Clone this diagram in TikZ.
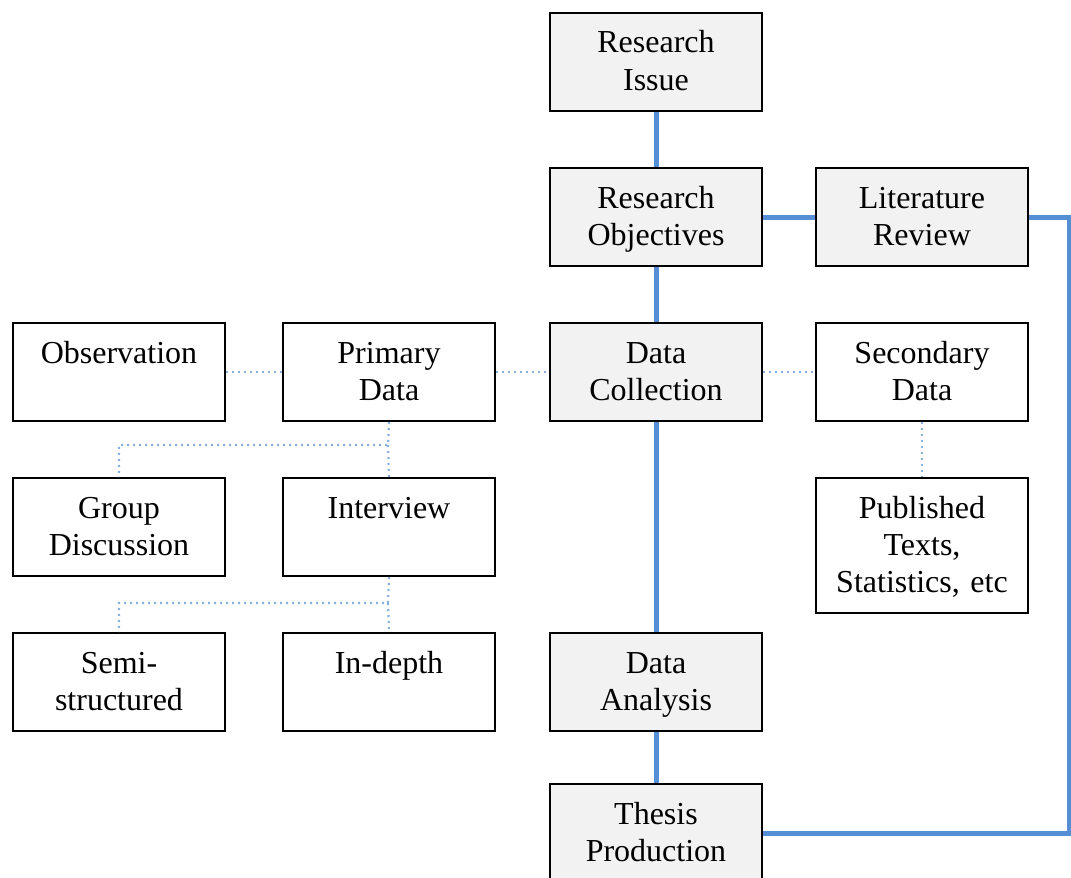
\documentclass[tikz,border=0pt]{standalone}
\usepackage{fontspec}
\setmainfont{Liberation Serif}
\definecolor{boxgray}{HTML}{F2F2F2}
\definecolor{linkblue}{HTML}{558ED5}
\definecolor{dotblue}{HTML}{8AB0E0}
\begin{document}
\begin{tikzpicture}[x=0.5pt, y=-0.5pt,
  blk/.style={draw, line width=1pt, anchor=north west, inner sep=0pt,
    minimum width=106pt, minimum height=49pt, text width=104pt, align=center,
    text height=20pt, text depth=29pt, font=\fontsize{16}{18.5}\selectfont},
  grayblk/.style={blk, fill=boxgray},
  mainline/.style={line width=2.5pt, draw=linkblue},
  subline/.style={line width=1.1pt, draw=dotblue, dash pattern=on 1pt off 2pt}]
\useasboundingbox (0,0) rectangle (1071,878);

% Main column
\node[grayblk] (issue) at (549,12) {Research\\Issue};
\node[grayblk] (objectives) at (549,167) {Research\\Objectives};
\node[grayblk] (litreview) at (815,167) {Literature\\Review};
\node[grayblk] (collection) at (549,322) {Data\\Collection};
\node[grayblk] (analysis) at (549,632) {Data\\Analysis};
\node[grayblk] (thesis) at (549,783) {Thesis\\Production};

% Primary and secondary data
\node[blk] (observation) at (12,322) {Observation};
\node[blk] (primary) at (282,322) {Primary\\Data};
\node[blk] (secondary) at (815,322) {Secondary\\Data};
\node[blk] (group) at (12,477) {Group\\Discussion};
\node[blk] (interview) at (282,477) {Interview};
\node[blk, text depth=47.5pt] (published) at (815,477) {Published\\Texts,\\Statistics, etc};
\node[blk] (semi) at (12,632) {Semi-\\structured};
\node[blk] (indepth) at (282,632) {In-depth};

% Thick links
\draw[mainline] (issue) -- (objectives);
\draw[mainline] (objectives) -- (litreview);
\draw[mainline] (objectives) -- (collection);
\draw[mainline] (collection) -- (analysis);
\draw[mainline] (analysis) -- (thesis);
\coordinate (loop) at (1069,0);
\draw[mainline] (litreview.east) -- (litreview.east -| loop) |- (thesis.east);

% Dotted links
\draw[subline] (observation) -- (primary);
\draw[subline] (primary) -- (collection);
\draw[subline] (collection) -- (secondary);
\draw[subline] (secondary) -- (published);
\coordinate (pjoin) at (388,445);
\draw[subline] (primary.south) -- (pjoin) -| (group.north);
\draw[subline] (pjoin) -- (interview.north);
\coordinate (ijoin) at (388,603);
\draw[subline] (interview.south) -- (ijoin) -| (semi.north);
\draw[subline] (ijoin) -- (indepth.north);

\end{tikzpicture}
\end{document}
